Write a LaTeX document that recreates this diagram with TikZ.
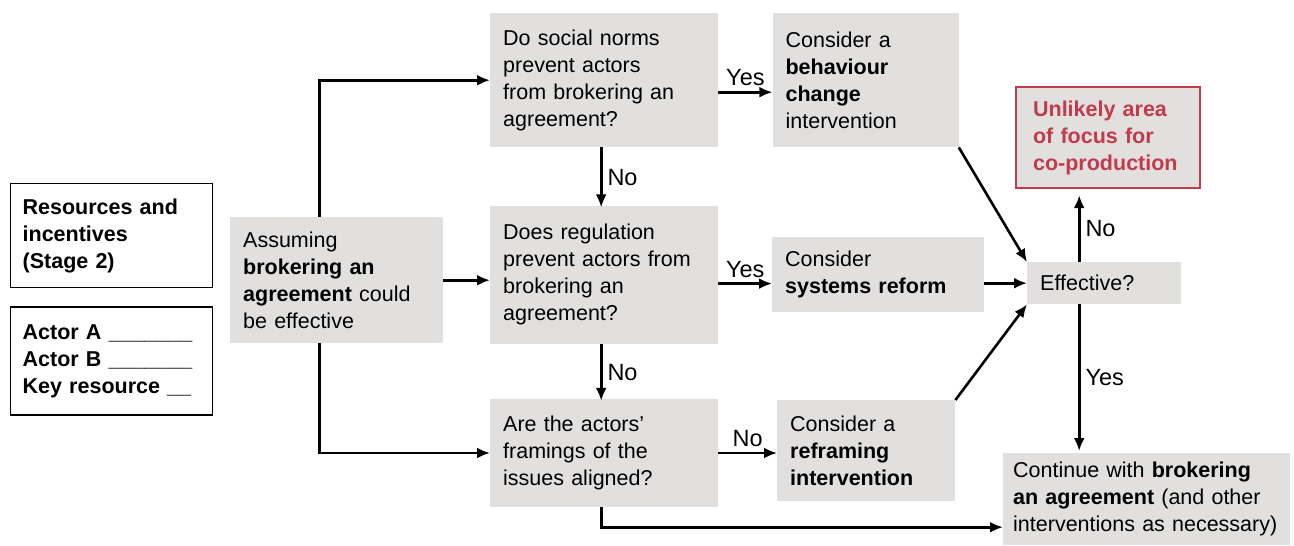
\documentclass[tikz,border=0pt]{standalone}
\usepackage{fontspec}
\setmainfont{Liberation Sans}
\usepackage{xcolor}
\usetikzlibrary{arrows.meta,positioning,calc}
\definecolor{boxgrey}{HTML}{E1E0DF}
\definecolor{warnred}{HTML}{C23B4C}

\begin{document}
\begin{tikzpicture}[x=1pt,y=-1pt,font=\fontsize{21.5}{27}\selectfont,
  box/.style={rectangle,fill=boxgrey,inner xsep=13pt,inner ysep=0pt,align=left,anchor=north west},
  frame/.style={rectangle,draw,line width=1.3pt,inner xsep=12pt,inner ysep=0pt,align=left,anchor=north west},
  arrow/.style={-{Latex[length=13pt,width=11pt]},line width=2.6pt},
  lbl/.style={inner sep=5pt,font=\fontsize{23.5}{27}\selectfont}
]
\useasboundingbox (0,0) rectangle (1294,546);
% stage 2 reminder
\node[frame,minimum width=202pt,minimum height=104pt,text width=178pt] (res) at (10,183)
  {\textbf{Resources and}\\\textbf{incentives}\\\textbf{(Stage 2)}};
\node[frame,minimum width=202pt,minimum height=108pt,text width=178pt,below=18pt of res.south west,anchor=north west] (actors)
  {\textbf{Actor A \_\_\_\_\_\_\_}\\\textbf{Actor B \_\_\_\_\_\_\_}\\\textbf{Key resource \_\_}};
% main flow
\node[box,minimum width=213pt,minimum height=126pt,text width=187pt] (assume) at (230,217)
  {Assuming\\\textbf{brokering an}\\\textbf{agreement} could\\be effective};
\node[box,minimum width=228pt,minimum height=134pt,text width=202pt] (q1) at (490,13)
  {Do social norms\\prevent actors\\from brokering an\\agreement?};
\node[box,minimum width=228pt,minimum height=138pt,text width=202pt,below=58pt of q1.south west,anchor=north west] (q2)
  {Does regulation\\prevent actors from\\brokering an\\agreement?};
\node[box,minimum width=228pt,minimum height=108pt,text width=202pt,below=55pt of q2.south west,anchor=north west] (q3)
  {Are the actors'\\framings of the\\issues aligned?};
\node[box,minimum width=186pt,minimum height=134pt,text width=160pt,right=54pt of q1.north east,anchor=north west] (beh)
  {Consider a\\\textbf{behaviour}\\\textbf{change}\\intervention};
\node[box,minimum width=212pt,minimum height=75pt,text width=186pt] (sys) at (772,237)
  {Consider\\\textbf{systems reform}};
\node[box,minimum width=178pt,minimum height=101pt,text width=152pt] (refr) at (777,400)
  {Consider a\\\textbf{reframing}\\\textbf{intervention}};
\node[box,minimum width=154pt,minimum height=42pt,text width=128pt] (eff) at (1027,262)
  {Effective?};
\node[box,draw=warnred,line width=2.2pt,inner xsep=17pt,minimum width=184pt,minimum height=101pt,text width=150pt,text=warnred] (unl) at (1015,86)
  {\textbf{Unlikely area}\\\textbf{of focus for}\\\textbf{co-production}};
\node[box,inner xsep=10pt,minimum width=287pt,minimum height=92pt,text width=267pt] (cont) at (1003,453)
  {Continue with \textbf{brokering}\\\textbf{an agreement} (and other\\interventions as necessary)};
% connectors
\draw[arrow] ([xshift=-17pt]assume.north) |- (q1.west);
\draw[arrow] (assume.east) -- (assume.east -| q2.west);
\draw[arrow] ([xshift=-17pt]assume.south) |- (q3.west);
\draw[arrow] ([xshift=-3pt]q1.south) -- ([xshift=-3pt,yshift=-2pt]q2.north) node[midway,right,lbl] {No};
\draw[arrow] ([xshift=-3pt]q2.south) -- ([xshift=-3pt,yshift=-2pt]q3.north) node[midway,right,lbl] {No};
\draw[arrow] ([yshift=-12pt]q1.east) -- ([yshift=-12pt]beh.west) node[midway,above,lbl] {Yes};
\draw[arrow] ([yshift=-9pt]q2.east) -- ([yshift=-9pt]q2.east -| sys.west) node[midway,above,lbl] {Yes};
\draw[arrow] (q3.east) -- (q3.east -| refr.west) node[midway,above,lbl] {No};
\draw[arrow] (beh.south east) -- (eff.north west);
\draw[arrow] (sys.east |- eff.west) -- (eff.west);
\draw[arrow] (refr.north east) -- (eff.south west);
\draw[arrow] ([xshift=-25pt]eff.north) -- ([xshift=-25pt,yshift=-6pt]eff.north |- unl.south) node[midway,right,lbl] {No};
\draw[arrow] ([xshift=-25pt]eff.south) -- ([xshift=-25pt,yshift=2pt]eff.south |- cont.north) node[midway,right,lbl] {Yes};
\coordinate (low) at ($([xshift=-3pt]q3.south)+(0,20)$);
\draw[arrow] ([xshift=-3pt]q3.south) -- (low) -- (low -| cont.west);
\end{tikzpicture}
\end{document}
